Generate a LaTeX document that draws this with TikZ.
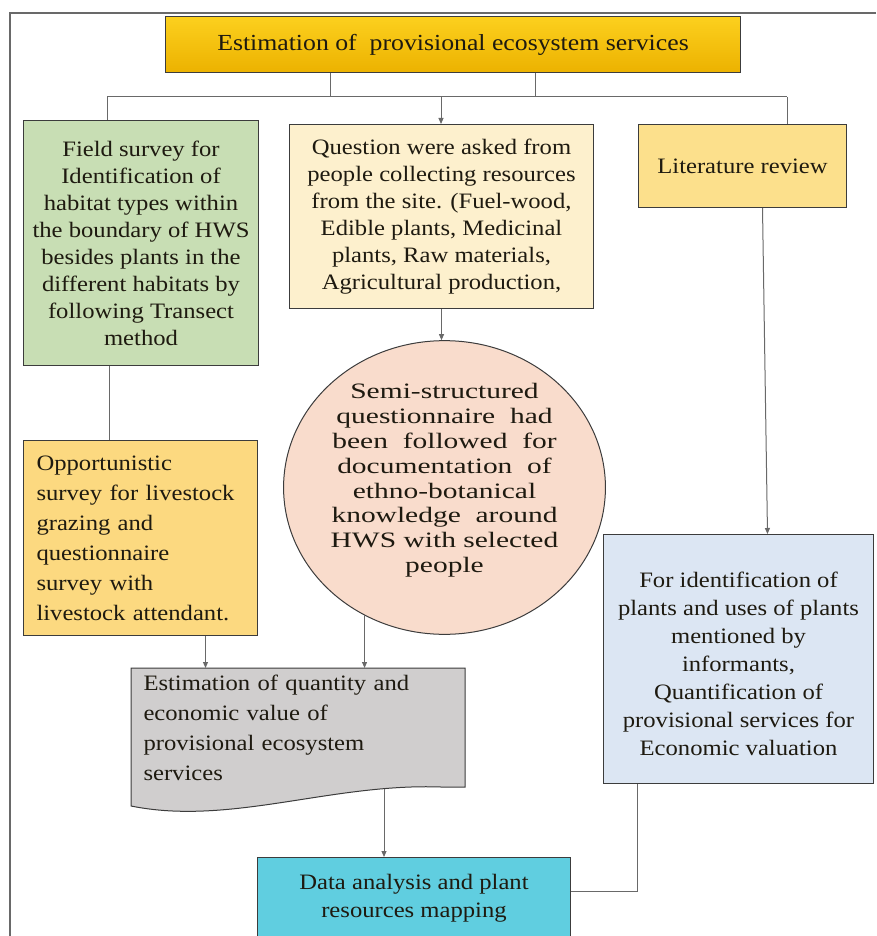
\documentclass[tikz,border=0pt]{standalone}
\usepackage{fontspec}
\setmainfont{Liberation Serif}[FakeStretch=1.12]
\newfontfamily\widefont{Liberation Serif}[FakeStretch=1.34]
\usetikzlibrary{shapes.geometric,arrows.meta,calc,backgrounds}

\definecolor{edge}{RGB}{60,60,60}
\definecolor{wire}{RGB}{105,105,105}
\definecolor{ink}{RGB}{30,26,16}
\definecolor{goldtop}{RGB}{252,208,30}
\definecolor{goldbot}{RGB}{236,178,0}
\definecolor{sage}{RGB}{200,222,180}
\definecolor{cream}{RGB}{253,240,205}
\definecolor{butter}{RGB}{252,224,140}
\definecolor{apricot}{RGB}{252,217,128}
\definecolor{peach}{RGB}{249,220,204}
\definecolor{paleblue}{RGB}{220,230,243}
\definecolor{stone}{RGB}{208,206,206}
\definecolor{aqua}{RGB}{96,206,224}

\begin{document}
\begin{tikzpicture}[x=1pt,y=-1pt,
  box/.style={draw=edge,line width=1pt,inner sep=0pt,align=center,text=ink,
    anchor=north west,font=\fontsize{22}{27}\selectfont},
  wirestyle/.style={draw=wire,line width=1pt},
  arr/.style={wirestyle,-{Triangle[width=5pt,length=6pt]}},
  frameline/.style={draw=wire,line width=1.6pt}]
\useasboundingbox (0,0) rectangle (876,936);

% outer frame (top and left sides only)
\draw[frameline] (876,13) -- (10,13) -- (10,940);

% title
\node[box,top color=goldtop,bottom color=goldbot,minimum width=575pt,minimum height=56pt,
  font=\fontsize{23}{27}\selectfont]
  (title) at (165,16) {Estimation of~ provisional ecosystem services};

% first row
\node[box,fill=sage,minimum width=235pt,minimum height=245pt] (field) at (23,120)
  {Field survey for\\ Identification of\\ habitat types within\\ the boundary of HWS\\
   besides plants in the\\ different habitats by\\ following Transect\\ method};
\node[box,fill=cream,minimum width=304pt,minimum height=184pt] (quest) at (289,124)
  {Question were asked from\\ people collecting resources\\ from the site. (Fuel-wood,\\
   Edible plants, Medicinal\\ plants, Raw materials,\\ Agricultural production,};
\node[box,fill=butter,minimum width=208pt,minimum height=83pt] (lit) at (638,124)
  {Literature review};

% middle row
\node[ellipse,draw=edge,line width=1pt,fill=peach,inner sep=0pt,align=center,text=ink,
  font=\widefont\fontsize{22}{24.8}\selectfont,minimum width=321pt,minimum height=289pt]
  (circ) at (444.5,487.5)
  {Semi-structured\\ questionnaire~ had\\ been~ followed~ for\\ documentation~ of\\
   ethno-botanical\\ knowledge~ around\\ HWS with selected\\ people\\[-6pt]};
\node[box,fill=apricot,align=left,font=\fontsize{22}{30}\selectfont,
  minimum width=234pt,minimum height=195pt,text width=208pt,inner xsep=13pt] (opp) at (23,440)
  {Opportunistic\\ survey for livestock\\ grazing and\\ questionnaire\\ survey with\\ livestock attendant.};
\node[box,fill=paleblue,font=\fontsize{22}{28}\selectfont,
  minimum width=270pt,minimum height=249pt] (forid) at (603,534)
  {\rule{0pt}{26pt}For identification of\\ plants and uses of plants\\ mentioned by\\ informants,\\
   Quantification of\\ provisional services for\\ Economic valuation};

% document shape with wavy lower edge
\node[box,draw=none,align=left,font=\fontsize{22}{30}\selectfont,
  minimum width=333pt,minimum height=118pt,text width=309pt,inner xsep=12pt] (doc) at (131,668)
  {Estimation of quantity and\\ economic value of\\ provisional ecosystem\\ services};
\begin{scope}[on background layer]
\draw[draw=edge,line width=1pt,fill=stone]
  (doc.north west) -- (doc.north east) -- (doc.south east)
  -- ($(doc.south east)+(-24,0)$)
  .. controls ($(doc.south east)+(-134,-4)$) and ($(doc.south west)+(99,39)$)
  .. ($(doc.south west)+(0,19)$) -- cycle;
\end{scope}
\coordinate (docb) at (384,789);

% final box
\node[box,fill=aqua,font=\fontsize{22}{28}\selectfont,minimum width=313pt,minimum height=82pt]
  (data) at (257,857) {Data analysis and plant\\ resources mapping};

% connectors from the title
\coordinate (bL) at (107,97);
\coordinate (bR) at (787,97);
\coordinate (b1) at (330,97);
\coordinate (b2) at (535,97);
\coordinate (bM) at (441,97);
\draw[wirestyle] (title.south -| b1) -- (b1);
\draw[wirestyle] (title.south -| b2) -- (b2);
\draw[wirestyle] (bL) -- (bR);
\draw[wirestyle] (bL) -- (bL |- field.north);
\draw[wirestyle] (bR) -- (bR |- lit.north);
\draw[arr] (bM) -- (bM |- quest.north);

% connectors between the steps
\draw[wirestyle] ([xshift=-31.5pt]field.south) -- ([xshift=-31pt]opp.north);
\draw[arr] (quest.south) -- (quest.south |- circ.north);
\draw[arr] ([xshift=20pt]lit.south) -- ([xshift=29pt]forid.north);
\draw[arr] ([xshift=65pt]opp.south) -- ([xshift=65pt]opp.south |- doc.north);
\draw[arr] (circ.238.5) -- (circ.238.5 |- doc.north);
\draw[arr] (docb) -- (docb |- data.north);
\coordinate (j) at (637,891);
\draw[wirestyle] (forid.south -| j) -- (j) -- (j -| data.east);
\end{tikzpicture}
\end{document}
